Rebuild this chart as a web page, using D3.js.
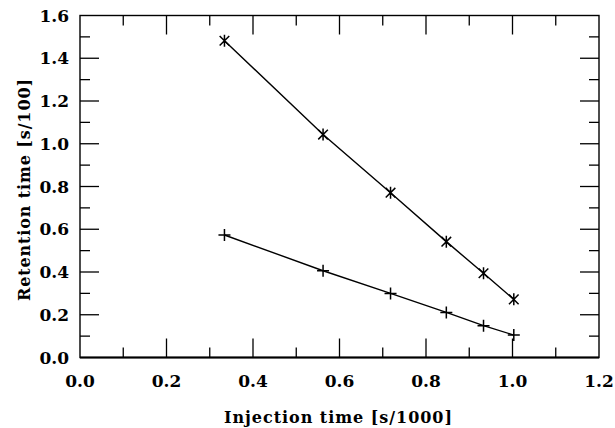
<!DOCTYPE html>
<html>
<head>
<meta charset="utf-8">
<script src="https://cdn.jsdelivr.net/npm/d3@7"></script>
<style>
  body { margin: 0; background: #fff; }
  text { font-family: "DejaVu Serif", "Liberation Serif", serif; font-weight: bold; fill: #000; }
</style>
</head>
<body>
<script>
let width = 615,
    height = 428

// data
const injectionTimes = [0.334, 0.562, 0.718, 0.847, 0.933, 1.003]
const upperRetention = [1.482, 1.043, 0.771, 0.542, 0.394, 0.272]
const lowerRetention = [0.573, 0.406, 0.300, 0.211, 0.149, 0.105]
const xTicks = [0, 0.2, 0.4, 0.6, 0.8, 1.0, 1.2]
const yTicks = [0, 0.2, 0.4, 0.6, 0.8, 1.0, 1.2, 1.4, 1.6]
const xMinor = [0.1, 0.3, 0.5, 0.7, 0.9, 1.1]
const yMinor = [0.1, 0.3, 0.5, 0.7, 0.9, 1.1, 1.3, 1.5]

const plotL = 80, plotR = 599, plotT = 15.5, plotB = 357.5

let x = d3.scaleLinear().domain([0, 1.2]).range([plotL, plotR])
let y = d3.scaleLinear().domain([0, 1.6]).range([plotB, plotT])

let svg = d3.select('body').append('svg')
    .attr('width', width)
    .attr('height', height)

// frame
svg.append('rect')
    .attr('x', plotL).attr('y', plotT)
    .attr('width', plotR - plotL).attr('height', plotB - plotT)
    .style('fill', 'none')
    .style('stroke', '#000')
    .style('stroke-width', 1.4)
svg.append('line')
    .attr('x1', plotL).attr('x2', plotR)
    .attr('y1', plotB).attr('y2', plotB)
    .style('stroke', '#000').style('stroke-width', 2)

// ticks pointing inward on all four sides
const major = 19, minor = 10
let ticks = svg.append('g').style('stroke', '#000').style('stroke-width', 1.3)
const addX = (vals, len) => vals.forEach(v => {
  ticks.append('line').attr('x1', x(v)).attr('x2', x(v)).attr('y1', plotB).attr('y2', plotB - len)
  ticks.append('line').attr('x1', x(v)).attr('x2', x(v)).attr('y1', plotT).attr('y2', plotT + len)
})
const addY = (vals, len) => vals.forEach(v => {
  ticks.append('line').attr('y1', y(v)).attr('y2', y(v)).attr('x1', plotL).attr('x2', plotL + len)
  ticks.append('line').attr('y1', y(v)).attr('y2', y(v)).attr('x1', plotR).attr('x2', plotR - len)
})
addX(xTicks.slice(1, -1), major)
addX(xMinor, minor)
addY(yTicks.slice(1, -1), major)
addY(yMinor, minor)

// tick labels
svg.append('g').selectAll('text').data(xTicks).join('text')
    .attr('x', d => x(d))
    .attr('y', 387)
    .attr('text-anchor', 'middle')
    .style('font-size', '17px')
    .text(d => d.toFixed(1))
svg.append('g').selectAll('text').data(yTicks).join('text')
    .attr('x', 69)
    .attr('y', d => y(d) + 6)
    .attr('text-anchor', 'end')
    .style('font-size', '17px')
    .text(d => d.toFixed(1))

// axis titles
svg.append('text')
    .attr('x', 338).attr('y', 423)
    .attr('text-anchor', 'middle')
    .attr('textLength', 228).attr('lengthAdjust', 'spacing')
    .style('font-size', '16px')
    .text('Injection time [s/1000]')
svg.append('text')
    .attr('transform', 'translate(30,190) rotate(-90)')
    .attr('text-anchor', 'middle')
    .attr('textLength', 222).attr('lengthAdjust', 'spacing')
    .style('font-size', '16px')
    .text('Retention time [s/100]')

// lines
const series = [
  {vals: upperRetention, mark: 'star'},
  {vals: lowerRetention, mark: 'plus'}
]
let line = d3.line().x(d => x(d[0])).y(d => y(d[1]))
series.forEach(s => {
  let pts = injectionTimes.map((t, i) => [t, s.vals[i]])
  svg.append('path')
      .attr('d', line(pts))
      .style('fill', 'none')
      .style('stroke', '#000')
      .style('stroke-width', 1.4)
  let g = svg.append('g').style('stroke', '#000').style('stroke-width', 1.5)
  pts.forEach(p => {
    let cx = x(p[0]), cy = y(p[1]), r = 6
    if (s.mark === 'plus') {
      g.append('path').attr('d', `M${cx - r},${cy}H${cx + r}M${cx},${cy - r}V${cy + r}`)
    } else {
      let d = r * 0.8
      g.append('path').attr('d',
        `M${cx - d},${cy - d}L${cx + d},${cy + d}M${cx - d},${cy + d}L${cx + d},${cy - d}M${cx},${cy - r}V${cy + r}`)
    }
  })
})
</script>
</body>
</html>
